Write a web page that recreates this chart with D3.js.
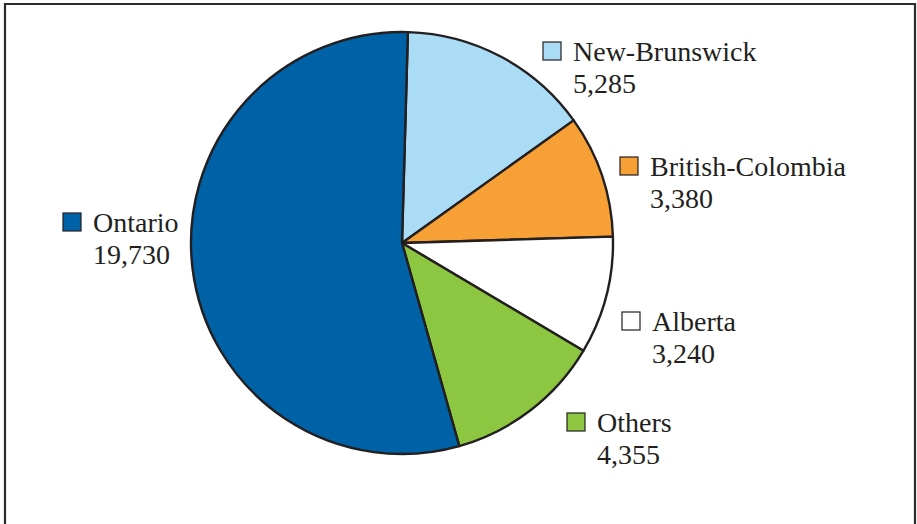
<!DOCTYPE html>
<html>
<head>
<meta charset="utf-8">
<script src="https://cdn.jsdelivr.net/npm/d3@7"></script>
<style>
  html, body { margin: 0; padding: 0; background: #fff; }
  svg { display: block; }
  text { font-family: "Liberation Serif", "Times New Roman", serif; fill: #231f20; }
</style>
</head>
<body>
<svg id="chart" width="917" height="524"></svg>
<script>
// Slices in clockwise order, starting just right of twelve o'clock
const categories = ["New-Brunswick", "British-Colombia", "Alberta", "Others", "Ontario"];
const values = [5285, 3380, 3240, 4355, 19730];
const colors = ["#abdcf6", "#f7a035", "#ffffff", "#8dc641", "#0062a6"];

// Legend label anchor for each slice (square + name, value underneath)
const labelPos = [
  [543, 42], [620, 157], [622, 312], [567, 413], [63, 213]
];

const svg = d3.select("#chart");
const W = 917, H = 524;

// Outer frame (open at the bottom)
svg.append("path")
  .attr("d", `M5,${H + 2} L5,4 L915,4 L915,${H + 2}`)
  .attr("fill", "none")
  .attr("stroke", "#2a2a2a")
  .attr("stroke-width", 2.2);

const cx = 402, cy = 243, R = 211;
const startDeg = 1.6;

const pie = d3.pie()
  .sort(null)
  .value(d => d)
  .startAngle(startDeg * Math.PI / 180)
  .endAngle((startDeg + 360) * Math.PI / 180);

const arc = d3.arc().innerRadius(0).outerRadius(R);

const g = svg.append("g").attr("transform", `translate(${cx},${cy})`);
g.selectAll("path.slice")
  .data(pie(values))
  .join("path")
  .attr("class", "slice")
  .attr("d", arc)
  .attr("fill", (d, i) => colors[i])
  .attr("stroke", "#231f20")
  .attr("stroke-width", 2.4)
  .attr("stroke-linejoin", "round");

const fmt = d3.format(",");
const sq = 18, fs = 28;

const legend = svg.selectAll("g.lab")
  .data(categories)
  .join("g")
  .attr("class", "lab")
  .attr("transform", (d, i) => `translate(${labelPos[i][0]},${labelPos[i][1]})`);

legend.append("rect")
  .attr("x", 0).attr("y", 0)
  .attr("width", sq).attr("height", sq)
  .attr("fill", (d, i) => colors[i])
  .attr("stroke", "#231f20")
  .attr("stroke-width", 1.2);

legend.append("text")
  .attr("x", 30).attr("y", sq + 1)
  .attr("font-size", fs)
  .text(d => d);

legend.append("text")
  .attr("x", 30).attr("y", sq + 33)
  .attr("font-size", fs)
  .text((d, i) => fmt(values[i]));
</script>
</body>
</html>
